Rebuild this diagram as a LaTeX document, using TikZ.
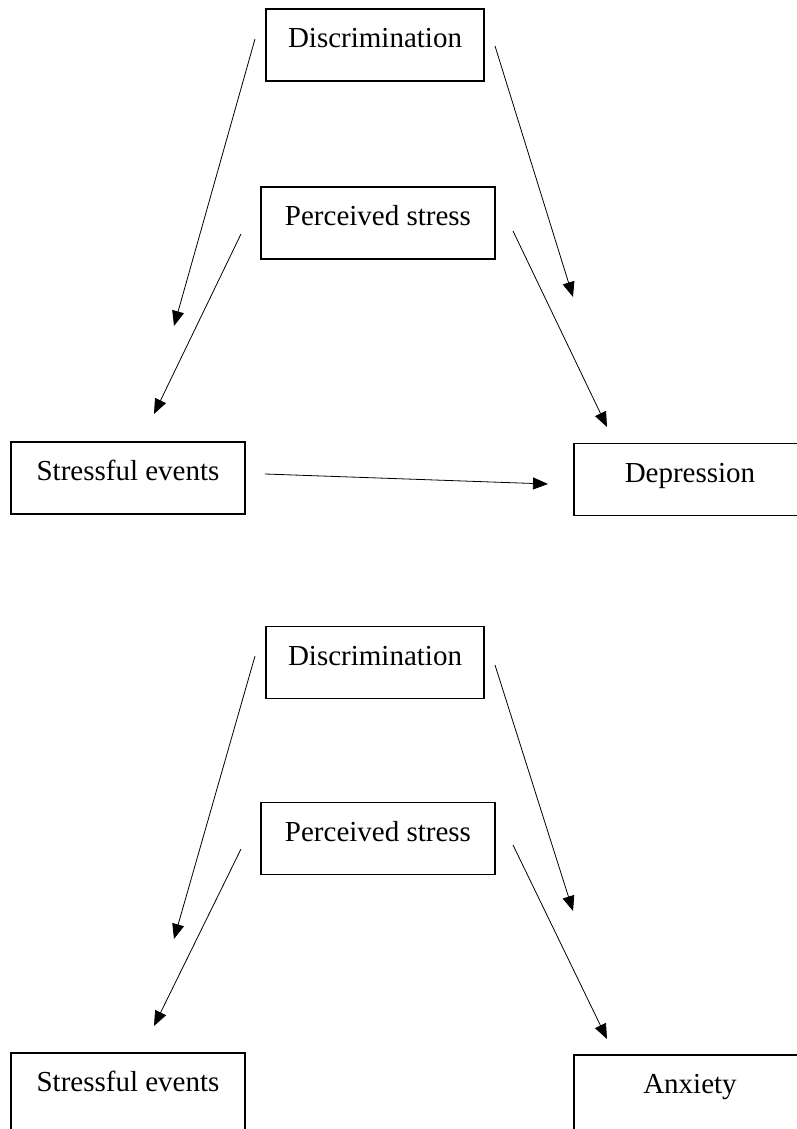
\documentclass[tikz,border=0pt]{standalone}
\usepackage{fontspec}
\setmainfont{Liberation Serif}
\usetikzlibrary{arrows.meta}

\tikzset{
  box/.style={draw, line width=1.1pt, inner sep=0pt, minimum height=72pt,
    text height=20pt, text depth=15pt, font=\fontsize{29}{34}\selectfont},
  % boxes that run past the lower edge
  lowbox/.style={box, minimum height=90pt, text depth=33pt},
  link/.style={line width=0.8pt, -{Triangle[length=15pt,width=12pt]}}
}

\begin{document}
\begin{tikzpicture}[x=1pt, y=-1pt]
    \path[use as bounding box, clip] (0,0) rectangle (797,1129);

    % first model
    \node [box, minimum width=218pt] (disc1) at (375,45) {Discrimination};
    \node [box, minimum width=234pt] (perc1) at (378,223) {Perceived stress};
    \node [box, minimum width=234pt] (ev1) at (128,478) {Stressful events};
    \node [box, minimum width=232pt] (dep) at (690,479.5) {Depression};

    \coordinate (d1l-s) at (255,39);  \coordinate (d1l-e) at (174,326);
    \coordinate (d1r-s) at (495,46);  \coordinate (d1r-e) at (573,297);
    \coordinate (p1l-s) at (241,234); \coordinate (p1l-e) at (154,414);
    \coordinate (p1r-s) at (513,231); \coordinate (p1r-e) at (607,427);
    \coordinate (ev-s) at (265,474);  \coordinate (ev-e) at (548,484);
    \draw [link] (d1l-s) -- (d1l-e);
    \draw [link] (d1r-s) -- (d1r-e);
    \draw [link] (p1l-s) -- (p1l-e);
    \draw [link] (p1r-s) -- (p1r-e);
    \draw [link] (ev-s) -- (ev-e);

    % second model
    \node [box, minimum width=218pt] (disc2) at (375,662.5) {Discrimination};
    \node [box, minimum width=234pt] (perc2) at (378,838.5) {Perceived stress};
    \node [lowbox, minimum width=234pt] (ev2) at (128,1098) {Stressful events};
    \node [lowbox, minimum width=232pt] (anx) at (690,1100) {Anxiety};

    \coordinate (d2l-s) at (255,656); \coordinate (d2l-e) at (174,939);
    \coordinate (d2r-s) at (495,665); \coordinate (d2r-e) at (573,911);
    \coordinate (p2l-s) at (241,849); \coordinate (p2l-e) at (154,1026);
    \coordinate (p2r-s) at (513,845); \coordinate (p2r-e) at (607,1039);
    \draw [link] (d2l-s) -- (d2l-e);
    \draw [link] (d2r-s) -- (d2r-e);
    \draw [link] (p2l-s) -- (p2l-e);
    \draw [link] (p2r-s) -- (p2r-e);
\end{tikzpicture}
\end{document}
